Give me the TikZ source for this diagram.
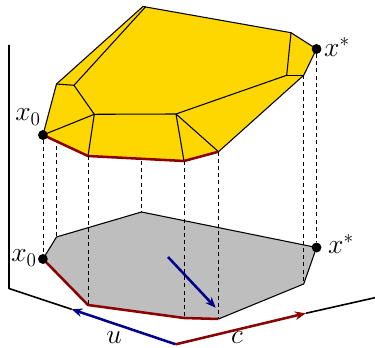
\documentclass[tikz,border=0pt]{standalone}
\usetikzlibrary{arrows.meta}
\definecolor{polygold}{RGB}{255,215,0}
\definecolor{shadow}{RGB}{190,190,190}
\definecolor{pathred}{RGB}{139,0,0}
\definecolor{dirblue}{RGB}{0,0,139}
\tikzset{
  edge/.style={line width=0.8pt,line join=round},
  axis/.style={line width=1.2pt,line join=round},
  drop/.style={line width=0.7pt,dash pattern=on 3pt off 2.4pt},
  redpath/.style={pathred,line width=1.9pt,line join=round},
  vec/.style={-{Stealth[length=8pt,width=6.5pt]},line width=1.9pt},
  dot/.style={circle,fill=black,inner sep=0pt,minimum size=7.2pt},
  lab/.style={font=\fontsize{20.5}{23}\selectfont,inner sep=0pt},
}
\begin{document}
\begin{tikzpicture}[x=0.75pt,y=-0.75pt]
\useasboundingbox (0,0) rectangle (375,348);
% ---- top vertices ----
\coordinate (a) at (56.5,84);
\coordinate (b) at (143,6.5);
\coordinate (b2) at (145.7,6.7);
\coordinate (t) at (291,32.7);
\coordinate (r) at (303.7,75.3);
\coordinate (s) at (218.5,151.7);
\coordinate (p) at (184,161);
\coordinate (q) at (88,156);
\coordinate (i1) at (74,85.3);
\coordinate (i2) at (94.3,114.3);
\coordinate (i3) at (176,114);
\coordinate (i4) at (286.7,75.3);
\node[dot] (x0) at (43,135) {};
\node[dot] (xs) at (316.5,49) {};
% ---- shadow vertices ----
\coordinate (a') at (56.5,237);
\coordinate (b') at (141.5,212);
\coordinate (r') at (303.7,284);
\coordinate (s') at (218.5,319);
\coordinate (p') at (184,318);
\coordinate (q') at (88,305);
\node[dot] (x0') at (43,259) {};
\node[dot] (xs') at (316.5,247.5) {};
% ---- axes ----
\coordinate (top) at (9,45);
\coordinate (corner) at (9,288.5);
\coordinate (o) at (175.7,344.3);
\coordinate (utip) at (71.7,309.3);
\coordinate (ctip) at (305.7,313.3);
\coordinate (far) at (375,297.7);
\draw[axis] (top) -- (corner) -- (utip);
\draw[axis] (ctip) -- (far);
% ---- shadow ----
\fill[shadow] (x0'.center) -- (a') -- (b') -- (xs'.center) -- (r') -- (s') -- (p') -- (q') -- cycle;
\draw[edge] (x0'.center) -- (a') -- (b') -- (xs'.center) -- (r') -- (s');
\draw[redpath] (x0'.center) -- (q') -- (p') -- (s');
% ---- polytope ----
\fill[polygold] (x0.center) -- (a) -- (b) -- (t) -- (xs.center) -- (r) -- (s) -- (p) -- (q) -- cycle;
\draw[edge] (x0.center) -- (a) -- (b) -- (t) -- (xs.center) -- (r) -- (s);
\draw[edge] (a) -- (i1) -- (b2);
\draw[edge] (i1) -- (i2) -- (i3) -- (i4) -- (t);
\draw[edge] (i4) -- (r);
\draw[edge] (x0.center) -- (i2) -- (q);
\draw[edge] (i3) -- (p);
\draw[edge] (i3) -- (s);
\draw[redpath] (x0.center) -- (q) -- (p) -- (s);
% ---- drops ----
\foreach \u/\v in {x0/x0',q/q',p/p',s/s',r/r',xs/xs'}{
  \draw[drop] (\u) -- (\v);}
\coordinate (a2) at (56.5,146);
\coordinate (b2t) at (141.5,161);
\draw[drop] (a2) -- (a');
\draw[drop] (b2t) -- (b');
% ---- dots ----
\fill (x0) circle (3.6pt);
\fill (x0') circle (3.6pt);
\fill (xs) circle (3.6pt);
\fill (xs') circle (3.6pt);
% ---- arrows ----
\coordinate (d1) at (168,257);
\coordinate (d2) at (215.7,307.7);
\draw[vec,dirblue] (d1) -- (d2);
\draw[vec,dirblue] (o) -- (utip);
\draw[vec,pathred] (o) -- (ctip);
% ---- labels ----
\node[lab] (lx0) at (28,117) {$x_0$};
\node[lab] (lxs) at (337,47) {$x^*$};
\node[lab] (lx0') at (24,258) {$x_0$};
\node[lab] (lxs') at (341,244) {$x^*$};
\node[lab] (lu) at (114,338) {$u$};
\node[lab] (lc) at (237,338) {$c$};
\end{tikzpicture}
\end{document}
